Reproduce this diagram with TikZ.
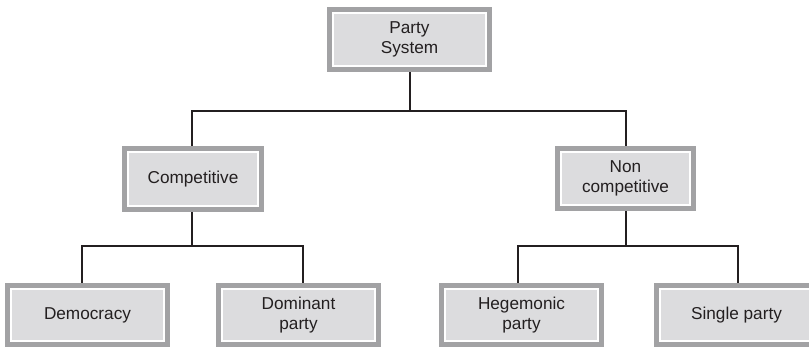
\documentclass[tikz,border=0pt]{standalone}
\usepackage{fontspec}
\setmainfont{Liberation Sans}
\usetikzlibrary{backgrounds}
\definecolor{boxgray}{HTML}{A2A2A4}
\definecolor{boxfill}{HTML}{DCDCDE}
\definecolor{ink}{HTML}{231F20}
\tikzset{
  px/.style={x=0.75pt,y=-0.75pt},
  catbox/.style={fill=boxfill, draw=white, line width=1.1pt,
    preaction={draw=boxgray, line width=9pt},
    inner sep=0pt, align=center, text=ink,
    font=\fontsize{12.9pt}{15pt}\selectfont},
  link/.style={draw=ink, line width=1.5pt}
}
\begin{document}
\begin{tikzpicture}[px]
\useasboundingbox (0,0) rectangle (809,346);
\node[catbox, minimum width=114.75pt, minimum height=39.75pt] (top) at (409.5,39.5) {Party\\System};
\node[catbox, minimum width=97.5pt, minimum height=40.5pt] (comp) at (193,179) {Competitive};
\node[catbox, minimum width=96.75pt, minimum height=39.75pt] (noncomp) at (625.5,178.5) {Non\\competitive};
\node[catbox, minimum width=114.75pt, minimum height=39pt] (dem) at (87.5,315) {Democracy};
\node[catbox, minimum width=114.75pt, minimum height=39pt] (dom) at (298.5,315) {Dominant\\party};
\node[catbox, minimum width=114.75pt, minimum height=39pt] (heg) at (521.5,315) {Hegemonic\\party};
\node[catbox, minimum width=114.75pt, minimum height=39pt] (sing) at (736.5,315) {Single party};
\coordinate (j1) at (410,111);
\coordinate (j2) at (192,246);
\coordinate (j3) at (626,246);
\coordinate (dA) at (82,246);
\coordinate (dB) at (303,246);
\coordinate (hA) at (518,246);
\coordinate (hB) at (738,246);
\begin{scope}[on background layer]
\draw[link] (top.south -| j1) -- (j1);
\draw[link] (comp.north -| 192,0) |- (j1) -| (noncomp.north);
\draw[link] (comp.south -| j2) -- (j2);
\draw[link] (dA |- dem.north) -- (dA) -- (dB) -- (dB |- dom.north);
\draw[link] (noncomp.south -| j3) -- (j3);
\draw[link] (hA |- heg.north) -- (hA) -- (hB) -- (hB |- sing.north);
\end{scope}
\end{tikzpicture}
\end{document}
